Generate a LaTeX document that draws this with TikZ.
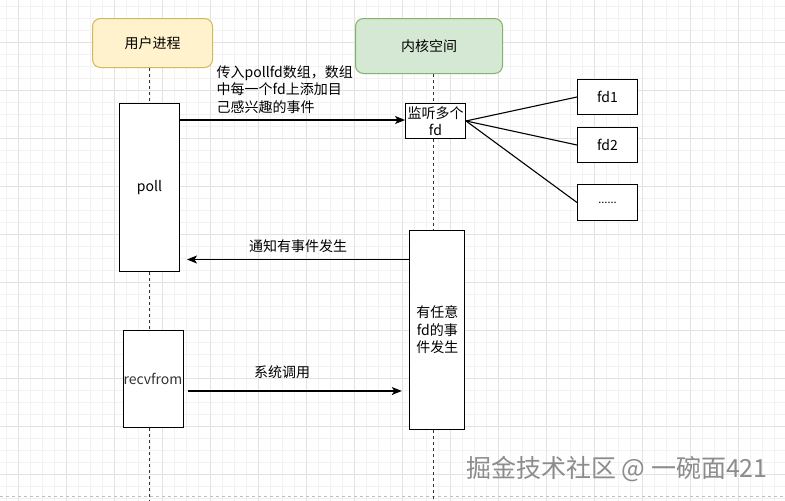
\documentclass[tikz,border=0pt]{standalone}
\usepackage{fontspec}
\setmainfont{Noto Sans CJK SC}
\usetikzlibrary{arrows.meta}
\definecolor{userfill}{HTML}{FFF2CC}
\definecolor{userdraw}{HTML}{D6B656}
\definecolor{kernfill}{HTML}{D5E8D4}
\definecolor{kerndraw}{HTML}{82B366}
\definecolor{minorg}{HTML}{F2F2F2}
\definecolor{majorg}{HTML}{E2E2E2}
\definecolor{wmark}{HTML}{8C8C8C}
\tikzset{
  minorgrid/.style={draw=minorg, line width=0.8pt},
  majorgrid/.style={draw=majorg, line width=1pt},
  actor/.style={rounded corners=8pt, line width=1pt, inner sep=0pt, anchor=north west, font=\fontsize{14}{17}\selectfont},
  box/.style={draw=black, fill=white, line width=1pt, inner sep=0pt, anchor=north west, align=center, font=\fontsize{14}{17.4}\selectfont},
  life/.style={draw=black!80, line width=1pt, dash pattern=on 3pt off 3pt},
  arr/.style={draw=black, line width=1.1pt, -{Stealth[length=10pt,width=8pt,inset=2.5pt]}},
  conn/.style={draw=black, line width=1.1pt},
  lbl/.style={inner sep=0pt, font=\fontsize{14}{17.5}\selectfont},
}
\begin{document}
\begin{tikzpicture}[x=1pt,y=-1pt]
\useasboundingbox (0,0) rectangle (785,501);
\fill[white] (0,0) rectangle (785,501);
% grid
\foreach \i in {0,...,65}{\draw[minorgrid] ({6+12*\i},0) -- ({6+12*\i},501);}
\foreach \j in {0,...,41}{\draw[minorgrid] (0,{6+12*\j}) -- (785,{6+12*\j});}
\foreach \i in {0,...,16}{\draw[majorgrid] ({18+48*\i},0) -- ({18+48*\i},501);}
\foreach \j in {0,...,9}{\draw[majorgrid] (0,{42+48*\j}) -- (785,{42+48*\j});}
\draw[draw=black!25, line width=0.8pt, dash pattern=on 3pt off 3pt] (0,496.5) -- (785,496.5);
% actors
\node[actor, fill=userfill, draw=userdraw, minimum width=120, minimum height=49] (user) at (92,18) {用户进程};
\node[actor, fill=kernfill, draw=kerndraw, minimum width=147, minimum height=55] (kern) at (355,18) {内核空间};
% activation boxes
\node[box, minimum width=60, minimum height=168] (poll) at (119,103) {poll};
\node[box, minimum width=60, minimum height=97, text=black!80] (recv) at (122.5,329.5) {recvfrom};
\node[box, minimum width=60, minimum height=35.5] (listen) at (405,102.7) {监听多个\\fd};
\node[box, minimum width=55, minimum height=199] (evt) at (409.3,230) {有任意\\fd的事\\件发生};
\node[box, minimum width=60, minimum height=35] (fd1) at (577,79) {fd1};
\node[box, minimum width=60, minimum height=35] (fd2) at (577,127) {fd2};
\node[box, minimum width=60, minimum height=36] (fd3) at (577,184) {\fontsize{11}{12}\selectfont ......};
% lifeline coordinates
\coordinate (ux) at (149,0);
\coordinate (kx) at (433,0);
\coordinate (bot) at (0,501);
% user lifeline
\draw[life] (ux |- user.south) -- (ux |- poll.north);
\draw[life] (ux |- poll.south) -- (ux |- recv.north);
\draw[life] (ux |- recv.south) -- (ux |- bot);
% kernel lifeline
\draw[life] (kx |- kern.south) -- (kx |- listen.north);
\draw[life] (kx |- listen.south) -- (kx |- evt.north);
\draw[life] (kx |- evt.south) -- (kx |- bot);
% messages
\coordinate (m1) at (0,120);
\coordinate (m2) at (0,259.5);
\coordinate (m3) at (0,391);
\draw[arr] (poll.east |- m1) -- (listen.west |- m1);
\draw[arr, shorten >=7pt] (evt.west |- m2) -- (poll.east |- m2);
\draw[arr, shorten <=4pt, shorten >=7.5pt] (recv.east |- m3) -- (evt.west |- m3);
% fan out
\draw[conn] (listen.east) -- (fd1.west);
\draw[conn] (listen.east) -- (fd2.west);
\draw[conn] (listen.east) -- (fd3.west);
% labels
\node[lbl, anchor=west, align=left] (l1) at (216.5,89.5) {传入pollfd数组，数组\\中每一个fd上添加目\\己感兴趣的事件};
\node[lbl] (l2) at (298,246) {通知有事件发生};
\node[lbl] (l3) at (282,372) {系统调用};
% watermark
\node[inner sep=0pt, anchor=west, text=wmark, font=\fontsize{25}{28}\selectfont] (wm) at (466,469) {掘金技术社区 @ 一碗面421};
\end{tikzpicture}
\end{document}
